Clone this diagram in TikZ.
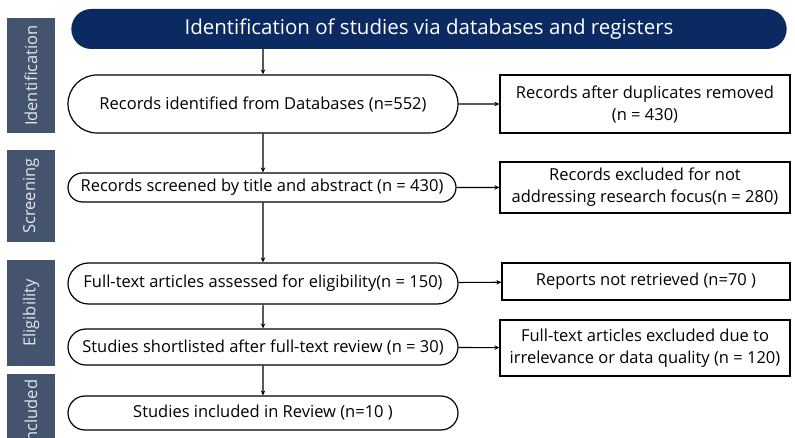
\documentclass[tikz,border=0pt]{standalone}
\usepackage{fontspec}
\setmainfont{Open Sans}
\usetikzlibrary{arrows.meta,positioning,shapes.misc}

\definecolor{navy}{HTML}{0B2A62}
\definecolor{slate}{HTML}{44546E}

\begin{document}
\begin{tikzpicture}[
    x=1pt, y=-1pt,
    stage/.style={rounded rectangle, draw, line width=1.2pt, inner sep=0pt, font=\fontsize{16.5}{19}\selectfont},
    excl/.style={draw, line width=1.2pt, inner sep=2pt, align=center, minimum width=290pt, font=\fontsize{16.5}{22}\selectfont},
    phase/.style={fill=slate, text=white!85!slate, inner sep=0pt, font=\fontsize{16.5}{19}\selectfont},
    flow/.style={-{Stealth[length=5pt,width=4.5pt]}, line width=1.1pt},
  ]
  \useasboundingbox (0,0) rectangle (795,438);

  % Phase bars
  \fill[slate] (7,18) rectangle (55,133);
  \fill[slate] (7,150) rectangle (55,242);
  \fill[slate] (7,260) rectangle (55,366);
  \fill[slate] (7,374) rectangle (55,445);
  \node[phase, rotate=90] (pid) at (31,75.5) {Identification};
  \node[phase, rotate=90] (pscr) at (31,196) {Screening};
  \node[phase, rotate=90] (pelig) at (31,313) {Eligibility};
  \node[phase, rotate=90] (pinc) at (31,413) {Included};

  % Header
  \node[rounded rectangle, fill=navy, text=white, minimum width=722pt, minimum height=40pt,
        font=\fontsize{20.5}{24}\selectfont] (head) at (429,29) {Identification of studies via databases and registers};

  % Main flow
  \node[stage, minimum width=390pt, minimum height=58pt] (ident) at (263,104) {Records identified from Databases (n=552)};
  \node[stage, minimum width=388pt, minimum height=29pt] (screen) at (262,187.5) {Records screened by title and abstract (n = 430)};
  \node[stage, minimum width=390pt, minimum height=41pt] (elig) at (263,283.5) {Full-text articles assessed for eligibility(n = 150)};
  \node[stage, minimum width=390pt, minimum height=36pt] (short) at (263,347) {Studies shortlisted after full-text review (n = 30)};
  \node[stage, minimum width=390pt, minimum height=34pt] (incl) at (263,413) {Studies included in Review (n=10 )};

  % Exclusions
  \node[excl, minimum height=58pt] (dup) at (645,104) {Records after duplicates removed\\(n = 430)};
  \node[excl, minimum height=51pt] (notfoc) at (645,187.5) {Records excluded for not\\addressing research focus(n = 280)};
  \node[excl, minimum width=288pt, minimum height=37pt] (notret) at (646,281.5) {Reports not retrieved (n=70 )};
  \node[excl, minimum height=56pt] (irrel) at (645,348) {Full-text articles excluded due to\\irrelevance or data quality (n = 120)};

  % Arrows
  \draw[flow] (head.south -| ident.north) -- (ident);
  \draw[flow] (ident) -- (screen.north -| ident.south);
  \draw[flow] (screen.south -| ident.south) -- (elig);
  \draw[flow] (elig) -- (short);
  \draw[flow] (short) -- (incl);
  \draw[flow] (ident) -- (dup);
  \draw[flow] (screen) -- (notfoc);
  \draw[flow] (elig) -- (notret);
  \draw[flow] (short) -- (irrel);
\end{tikzpicture}
\end{document}
